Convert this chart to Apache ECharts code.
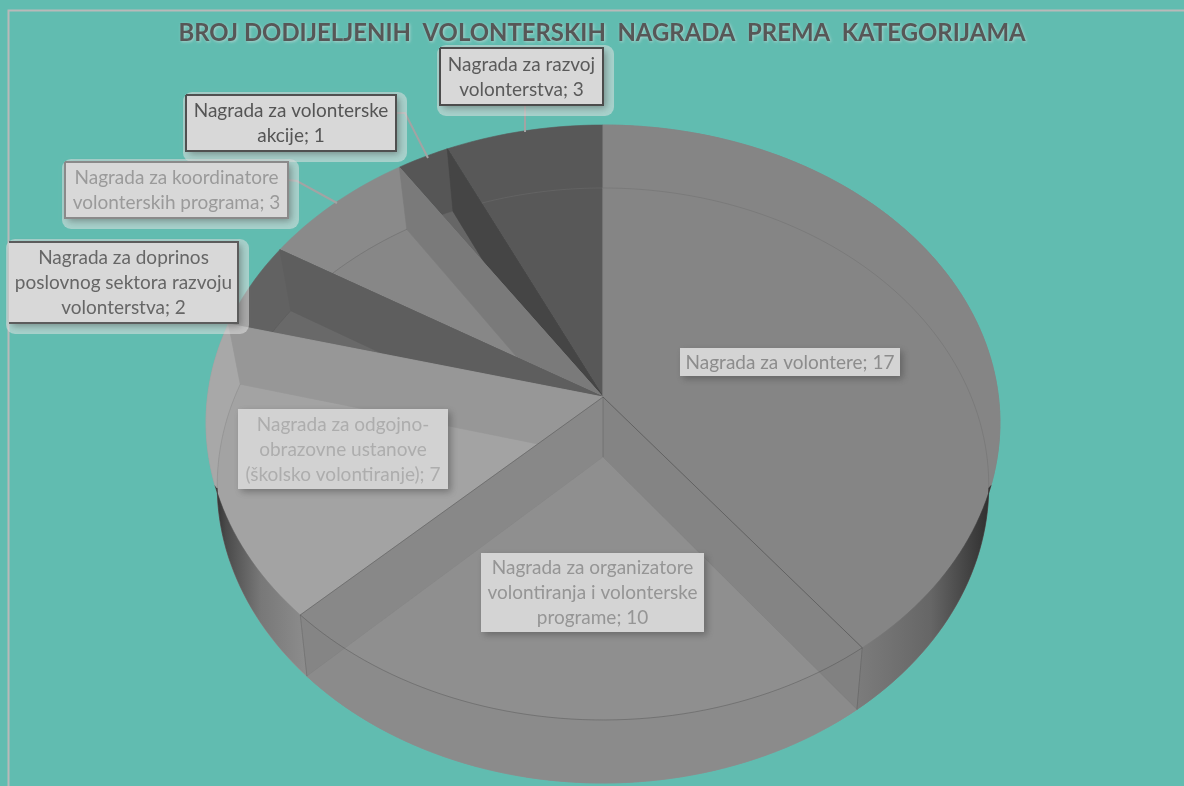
<!DOCTYPE html>
<html><head><meta charset="utf-8">
<style>html,body{margin:0;padding:0;background:#61bcb0;overflow:hidden}#c{width:1184px;height:786px}</style>
<script src="https://cdn.jsdelivr.net/npm/echarts@6/dist/echarts.min.js"></script>
</head><body><div id="c"></div>
<script>
const titleText = 'BROJ DODIJELJENIH  VOLONTERSKIH  NAGRADA  PREMA  KATEGORIJAMA';
const categories = [
  'Nagrada za volontere',
  'Nagrada za organizatore\nvolontiranja i volonterske\nprograme',
  'Nagrada za odgojno-\nobrazovne ustanove\n(školsko volontiranje)',
  'Nagrada za doprinos\nposlovnog sektora razvoju\nvolonterstva',
  'Nagrada za koordinatore\nvolonterskih programa',
  'Nagrada za volonterske\nakcije',
  'Nagrada za razvoj\nvolonterstva'
];
const values = [17, 10, 7, 2, 3, 1, 3];

// drawing styles, same order as categories
const topColors   = ['#858585','#8f8f8f','#9c9c9c','#626262','#8a8a8a','#565656','#585858'];
const floorColors = ['#858585','#8f8f8f','#a3a3a3','#696969','#878787','#666666','#585858'];
const wallColors  = [null,'rgba(0,0,0,0.07)','#979797','#5e5e5e','#7a7a7a','#454545',null];
const paintOrder  = [6,5,4,3,2,0,1];
const labelBoxes = [
  {x:680,y:348,w:220,h:28,fill:'#d4d4d4',text:'#8c8c8c'},
  {x:481,y:553,w:223,h:79,fill:'#d4d4d4',text:'#959595'},
  {x:238,y:409,w:210,h:80,fill:'#d2d2d2',text:'#adadad'},
  {x:9,y:242,w:229,h:81,fill:'#d8d8d8',text:'#666666',border:'#5c5c5c',halo:true,open:true},
  {x:65,y:162,w:223,h:56,fill:'#d8d8d8',text:'#9a9a9a',border:'#8a8a8a',halo:true},
  {x:186,y:95,w:210,h:56,fill:'#d8d8d8',text:'#555555',border:'#505050',halo:true},
  {x:440,y:48,w:163,h:57,fill:'#d8d8d8',text:'#5a5a5a',border:'#4c4c4c',halo:true}
];
const leaders = [
  null,null,null,null,
  [[288,180],[297,181],[337,203]],
  [[396,113],[405,113],[428,158]],
  [[525,105],[525,132]]
];
const topPlane   = {cx:603,cy:397,a:395.5,b:295.3,k:0.0857};
const floorPlane = {cx:603,cy:457,a:384,b:294.8,k:0.0958};

const total = values.reduce((s,v)=>s+v,0);
const startAngles = []; let run = 0;
values.forEach(v=>{startAngles.push(run/total*360); run+=v;});
const rad = d=>d*Math.PI/180;
function pt(pl,deg,r){
  r = r===undefined?1:r;
  const s=Math.sin(rad(deg))*r,c=Math.cos(rad(deg))*r,d=1+pl.k*c;
  return [pl.cx+pl.a*s/d, pl.cy-pl.b*c/d];
}
function arc(pl,a0,a1){
  const n=Math.max(2,Math.ceil(Math.abs(a1-a0)/1.5)),o=[];
  for(let i=0;i<=n;i++) o.push(pt(pl,a0+(a1-a0)*i/n));
  return o;
}
const sector=(pl,a0,a1)=>[[pl.cx,pl.cy]].concat(arc(pl,a0,a1));
const wall=d=>[pt(topPlane,d),pt(floorPlane,d),[floorPlane.cx,floorPlane.cy],[topPlane.cx,topPlane.cy]];
const band=(t0,t1,f1,f0)=>arc(topPlane,t0,t1).concat(arc(floorPlane,f1,f0));
const poly=(points,fill,z)=>({type:'polygon',z2:z,shape:{points},style:{fill,stroke:fill,lineWidth:0.6}});
const line=(points,stroke,w,z)=>({type:'polyline',z2:z,shape:{points},style:{fill:null,stroke,lineWidth:w}});
const lin=(stops)=>({type:'linear',x:0,y:0,x2:1,y2:0,colorStops:stops});

function renderItem(params){
  const i=params.dataIndex, a0=startAngles[i], a1=a0+values[i]/total*360;
  const z=paintOrder.indexOf(i)*10+10, ch=[];
  ch.push(poly(sector(topPlane,a0,a1),topColors[i],z));
  ch.push(poly(sector(floorPlane,a0,a1),floorColors[i],z+1));
  if(i===0){
    ch.push(poly(sector(topPlane,a0,a1),topColors[i],z+1));
    ch.push(poly(band(a1,107,96,a1),lin([{offset:0,color:'#7c7c7c'},{offset:.55,color:'#666666'},{offset:.9,color:'#3a3a3a'},{offset:1,color:'#2e2e2e'}]),z+2));
    ch.push(line(arc(floorPlane,0,98),'rgba(60,60,60,0.14)',1,z+3));
  }
  if(i===1){
    ch.push(poly(band(a0,a1,a1,a0),'#8b8b8b',z+2));
    ch.push(poly(wall(a0),wallColors[i],z+3));
    ch.push(poly(wall(a1),'rgba(0,0,0,0.045)',z+3));
    ch.push(line(arc(topPlane,a0,a1),'rgba(50,50,50,0.28)',1,z+4));
    ch.push(line([pt(topPlane,a0),pt(floorPlane,a0)],'rgba(50,50,50,0.22)',1,z+4));
    ch.push(line([pt(topPlane,a1),pt(floorPlane,a1)],'rgba(50,50,50,0.18)',1,z+4));
    ch.push(line([[topPlane.cx,topPlane.cy],pt(topPlane,a0)],'rgba(50,50,50,0.4)',1,z+4));
    ch.push(line([[topPlane.cx,topPlane.cy],pt(topPlane,a1)],'rgba(50,50,50,0.3)',1,z+4));
    ch.push(line([[topPlane.cx,topPlane.cy],[floorPlane.cx,floorPlane.cy]],'rgba(50,50,50,0.1)',1,z+4));
  }
  if(i===2){
    ch.push(poly(band(a0,253,264,a0),lin([{offset:0,color:'#303030'},{offset:.12,color:'#4a4a4a'},{offset:.5,color:'#787878'},{offset:1,color:'#8d8d8d'}]),z+2));
    ch.push(poly(band(a1,253,264,a1),'#a8a8a8',z+2));
    ch.push(poly(wall(a1),wallColors[i],z+3));
    ch.push(line(arc(floorPlane,a1,250),'rgba(70,70,70,0.16)',1,z+4));
  }
  if(i>2 && wallColors[i]){
    ch.push(poly(wall(a1),wallColors[i],z+3));
    ch.push(line([[topPlane.cx,topPlane.cy],pt(topPlane,a0)],'rgba(30,30,30,0.3)',1,z+4));
  }
  if(i===6){
    ch.push(line([[topPlane.cx,topPlane.cy],pt(topPlane,a0)],'rgba(20,20,20,0.45)',1,z+4));
    ch.push(line(arc(floorPlane,a0,a1),'rgba(120,120,120,0.35)',1,z+4));
  }
  if(i===4||i===3){
    ch.push(line(arc(floorPlane,a0,a1),'rgba(60,60,60,0.2)',1,z+4));
  }
  // data label
  const b=labelBoxes[i], Z=200;
  if(leaders[i]) ch.push(line(leaders[i],'#a3a3a3',2,Z));
  if(b.halo) ch.push({type:'rect',z2:Z+1,shape:{x:b.x-3,y:b.y-3,width:b.w+14,height:b.h+14,r:9},style:{fill:'rgba(226,226,226,0.55)'}});
  ch.push({type:'rect',z2:Z+2,shape:{x:b.x,y:b.y,width:b.w,height:b.h},
    style:{fill:b.fill,shadowBlur:7,shadowOffsetX:3,shadowOffsetY:3,shadowColor:'rgba(60,60,60,0.45)'}});
  if(b.border){
    const x0=b.x,y0=b.y,x1=b.x+b.w,y1=b.y+b.h;
    const pts=b.open?[[x0,y0],[x1,y0],[x1,y1],[x0,y1]]:[[x0,y0],[x1,y0],[x1,y1],[x0,y1],[x0,y0]];
    ch.push(line(pts,b.border,2,Z+3));
  }
  ch.push({type:'text',z2:Z+4,style:{x:b.x+b.w/2,y:b.y+b.h/2+0.5,text:categories[i]+'; '+values[i],fill:b.text,
    font:'19px Lato',align:'center',verticalAlign:'middle',lineHeight:25}});
  return {type:'group',children:ch};
}

const chart=echarts.init(document.getElementById('c'),null,{renderer:'canvas'});
chart.setOption({
  backgroundColor:'#61bcb0',
  animation:false,
  title:{text:titleText,left:597,top:16,textAlign:'center',
    textStyle:{fontFamily:'Lato',fontWeight:'bold',fontSize:23.9,color:'#575757',
      textShadowColor:'rgba(230,230,230,0.55)',textShadowBlur:3,textShadowOffsetX:1,textShadowOffsetY:1}},
  graphic:[{type:'polyline',silent:true,z:1,shape:{points:[[8.5,800],[8.5,10.5],[1200,10.5]]},style:{fill:null,stroke:'#b9b9b9',lineWidth:2}}],
  series:[{type:'custom',coordinateSystem:'none',silent:true,clip:false,renderItem,
    data:categories.map((c,i)=>({name:c,value:[i,values[i]]}))}]
});
</script></body></html>
